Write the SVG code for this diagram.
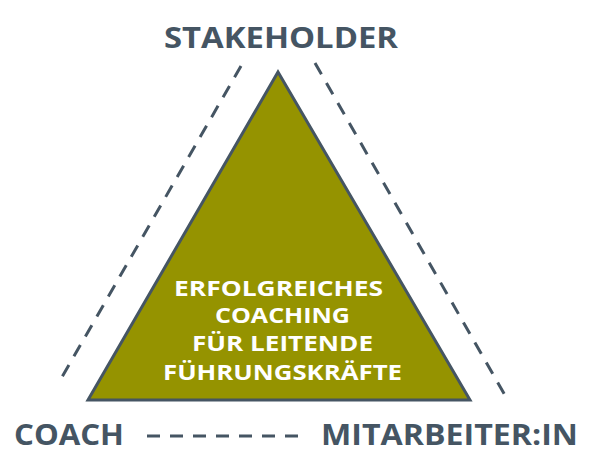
<svg xmlns="http://www.w3.org/2000/svg" width="600" height="464" viewBox="0 0 600 464">
<style>
.lbl{font-family:"Open Sans","Liberation Sans",sans-serif;font-weight:700;fill:#455563;font-size:29px}
.in{font-family:"Open Sans","Liberation Sans",sans-serif;font-weight:700;fill:#ffffff;font-size:22px}
.dash{stroke:#455563;stroke-width:3;stroke-dasharray:13 10;fill:none}
</style>
<rect width="600" height="464" fill="#ffffff"/>
<g id="connectors">
<line class="dash" x1="241" y1="66" x2="58" y2="384"/>
<line class="dash" x1="315" y1="63" x2="506" y2="397"/>
<line class="dash" x1="147" y1="436" x2="303" y2="436"/>
</g>
<g id="center">
<polygon points="278,72 470,400 88,400" fill="#959300" stroke="#455563" stroke-width="3" stroke-linejoin="miter"/>
<text class="in" x="174" y="296" textLength="209" lengthAdjust="spacingAndGlyphs">ERFOLGREICHES</text>
<text class="in" x="215" y="323" textLength="135" lengthAdjust="spacingAndGlyphs">COACHING</text>
<text class="in" x="192" y="351" textLength="181" lengthAdjust="spacingAndGlyphs">FÜR LEITENDE</text>
<text class="in" x="163" y="380" textLength="239" lengthAdjust="spacingAndGlyphs">FÜHRUNGSKRÄFTE</text>
</g>
<g id="stakeholder"><text class="lbl" x="164" y="48" textLength="234" lengthAdjust="spacingAndGlyphs">STAKEHOLDER</text></g>
<g id="coach"><text class="lbl" x="14" y="445" textLength="110" lengthAdjust="spacingAndGlyphs">COACH</text></g>
<g id="mitarbeiter"><text class="lbl" x="321" y="445" textLength="257" lengthAdjust="spacingAndGlyphs">MITARBEITER:IN</text></g>
</svg>
